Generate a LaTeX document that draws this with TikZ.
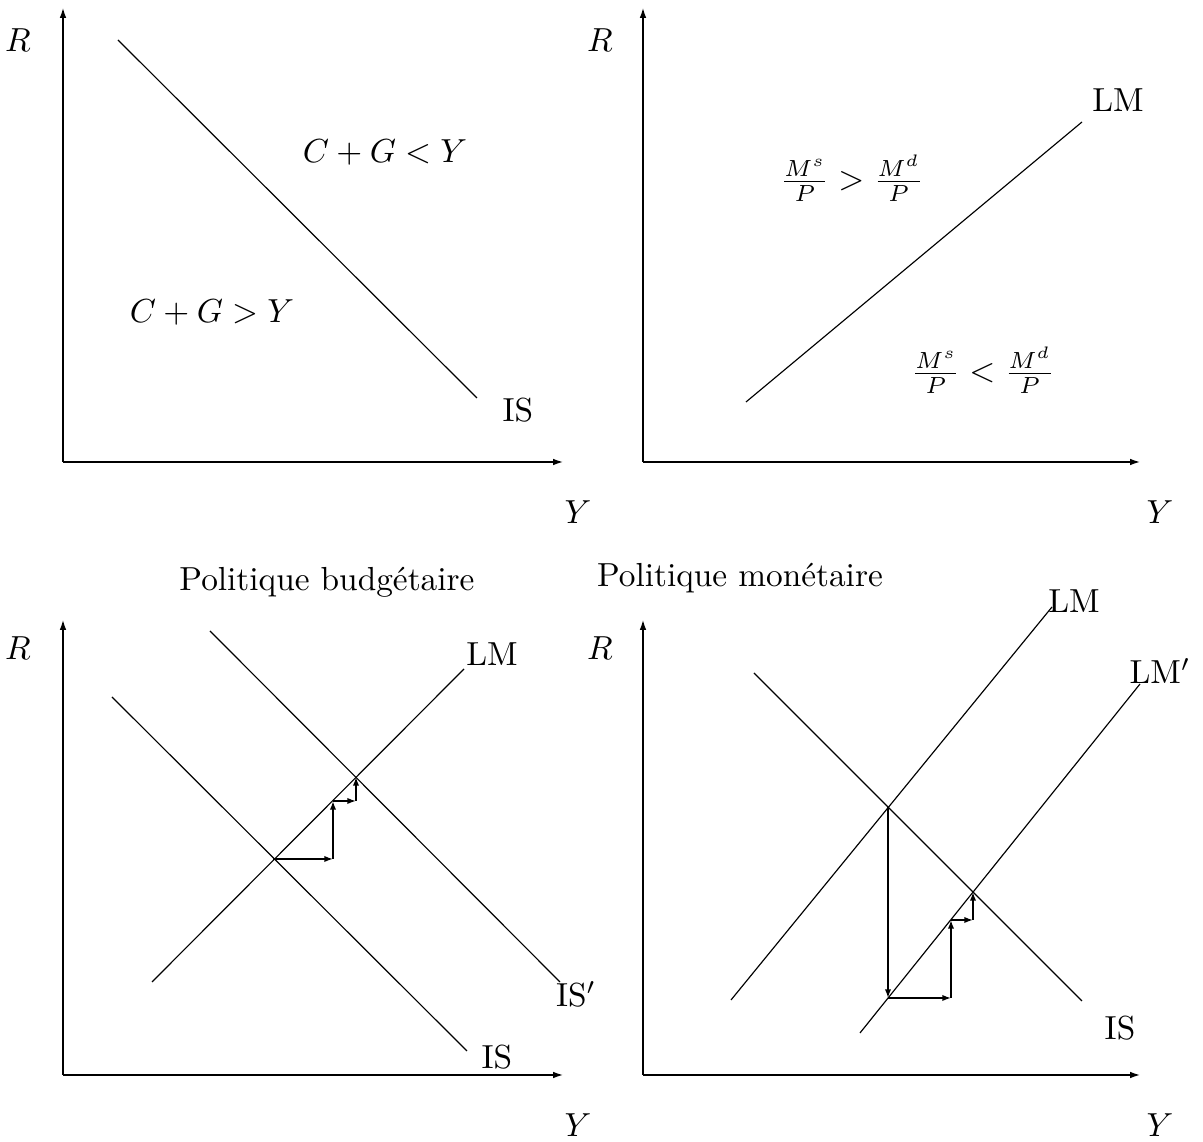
\documentclass[tikz,border=0pt]{standalone}
\usetikzlibrary{arrows.meta}
\begin{document}
\begin{tikzpicture}[x=0.3pt,y=-0.3pt,
  axis/.style={-{Latex[length=3pt,width=2pt]}},
  curve/.style={line width=0.35pt},
  adj/.style={-{Latex[length=2.6pt,width=1.9pt]}, line width=0.45pt},
  lbl/.style={inner sep=0pt, font=\fontsize{10}{12}\selectfont}]
\useasboundingbox (0,0) rectangle (1203,1142);

% ---------- panel 1 : IS ----------
\coordinate (O1) at (63,462);
\coordinate (Ytip1) at (63,8);
\coordinate (Xtip1) at (563,462);
\draw[axis] (O1) -- (Ytip1);
\draw[axis] (O1) -- (Xtip1);
\node[lbl] (R1) at (18,40) {$R$};
\node[lbl] (Ylab1) at (578,512) {$Y$};
\coordinate (ISa1) at (118,40);
\coordinate (ISb1) at (477,398);
\draw[curve] (ISa1) -- (ISb1);
\node[lbl] (IS1) at (518,410) {IS};
\node[lbl] (cgl) at (385,153) {$C+G<Y$};
\node[lbl] (cgg) at (212,313) {$C+G>Y$};

% ---------- panel 2 : LM ----------
\coordinate (O2) at (643,462);
\coordinate (Ytip2) at (643,8);
\coordinate (Xtip2) at (1140,462);
\draw[axis] (O2) -- (Ytip2);
\draw[axis] (O2) -- (Xtip2);
\node[lbl] (R2) at (600,40) {$R$};
\node[lbl] (Ylab2) at (1160,512) {$Y$};
\coordinate (LMa2) at (746,402);
\coordinate (LMb2) at (1082,122);
\draw[curve] (LMa2) -- (LMb2);
\node[lbl] (LM2) at (1118,100) {LM};
\node[lbl] (msg) at (852,178) {$\frac{M^s}{P} > \frac{M^d}{P}$};
\node[lbl] (msl) at (983,370) {$\frac{M^s}{P} < \frac{M^d}{P}$};

% ---------- panel 3 : fiscal policy ----------
\coordinate (O3) at (63,1075);
\coordinate (Ytip3) at (63,620);
\coordinate (Xtip3) at (563,1075);
\draw[axis] (O3) -- (Ytip3);
\draw[axis] (O3) -- (Xtip3);
\node[lbl] (R3) at (18,648) {$R$};
\node[lbl] (Ylab3) at (578,1125) {$Y$};
\node[lbl] (T3) at (327,582) {Politique budgétaire};
\coordinate (ISa3) at (112,697);
\coordinate (ISb3) at (467,1051);
\coordinate (ISpa3) at (210,631);
\coordinate (ISpb3) at (560,982);
\coordinate (LMa3) at (152,982);
\coordinate (LMb3) at (464,669);
\draw[curve] (ISa3) -- (ISb3);
\draw[curve] (ISpa3) -- (ISpb3);
\draw[curve] (LMa3) -- (LMb3);
\node[lbl] (IS3) at (497,1057) {IS};
\node[lbl] (ISp3) at (576,994) {IS$'$};
\node[lbl] (LM3) at (492,654) {LM};
\coordinate (E03) at (273,859);
\coordinate (P13) at (333,859);
\coordinate (P23) at (333,801);
\coordinate (P33) at (356,801);
\coordinate (E13) at (356,777);
\draw[adj] (E03) -- (P13);
\draw[adj] (P13) -- (P23);
\draw[adj] (P23) -- (P33);
\draw[adj] (P33) -- (E13);

% ---------- panel 4 : monetary policy ----------
\coordinate (O4) at (643,1075);
\coordinate (Ytip4) at (643,620);
\coordinate (Xtip4) at (1140,1075);
\draw[axis] (O4) -- (Ytip4);
\draw[axis] (O4) -- (Xtip4);
\node[lbl] (R4) at (600,648) {$R$};
\node[lbl] (Ylab4) at (1160,1125) {$Y$};
\node[lbl] (T4) at (740,578) {Politique monétaire};
\coordinate (ISa4) at (754,673);
\coordinate (ISb4) at (1082,1001);
\coordinate (LMa4) at (731,1000);
\coordinate (LMb4) at (1052,607);
\coordinate (LMpa4) at (860,1033);
\coordinate (LMpb4) at (1140,684);
\draw[curve] (ISa4) -- (ISb4);
\draw[curve] (LMa4) -- (LMb4);
\draw[curve] (LMpa4) -- (LMpb4);
\node[lbl] (IS4) at (1120,1028) {IS};
\node[lbl] (LM4) at (1074,601) {LM};
\node[lbl] (LMp4) at (1160,671) {LM$'$};
\coordinate (E04) at (888,807);
\coordinate (Q14) at (888,998);
\coordinate (Q24) at (951,998);
\coordinate (Q34) at (951,920);
\coordinate (Q44) at (973,920);
\coordinate (E14) at (973,892);
\draw[adj] (E04) -- (Q14);
\draw[adj] (Q14) -- (Q24);
\draw[adj] (Q24) -- (Q34);
\draw[adj] (Q34) -- (Q44);
\draw[adj] (Q44) -- (E14);
\end{tikzpicture}
\end{document}
